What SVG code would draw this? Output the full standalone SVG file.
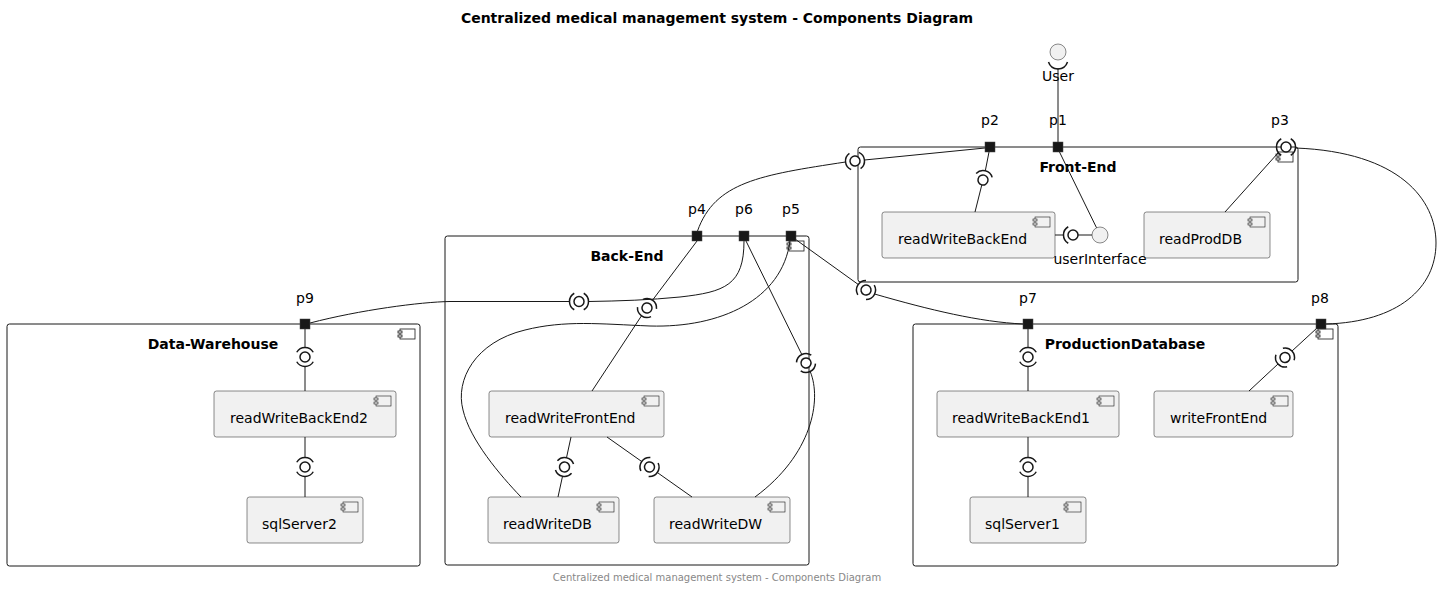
<svg xmlns="http://www.w3.org/2000/svg" width="1447" height="589" viewBox="0 0 1447 589">
<style>
text{font-family:"DejaVu Sans","Liberation Sans",sans-serif;fill:#000}
.t{font-size:14px;font-weight:bold;text-anchor:middle}
.ft{font-size:10px;fill:#888;text-anchor:middle}
.cl{font-size:14px;font-weight:bold;text-anchor:middle}
.n{font-size:14px}
.pl{font-size:14px;text-anchor:middle}
.ct{fill:#fff;stroke:#181818;stroke-width:1}
.cp{fill:#f1f1f1;stroke:#181818;stroke-width:0.5}
.ic{fill:#f1f1f1;stroke:#181818;stroke-width:0.6}
.icw{fill:#fff;stroke:#181818;stroke-width:0.8}
.ln{fill:none;stroke:#181818;stroke-width:1}
.pt{fill:#181818;stroke:#444;stroke-width:0.5}
.lc{fill:#fff;stroke:#181818;stroke-width:1.5}
.la{fill:none;stroke:#181818;stroke-width:1.5}
.if{fill:#f1f1f1;stroke:#181818;stroke-width:0.5}
</style>
<defs>
<g id="ico"><rect class="ic" x="2" y="0" width="15" height="10"/><rect class="ic" x="0" y="2" width="4" height="2"/><rect class="ic" x="0" y="6" width="4" height="2"/></g>
<g id="icoc"><rect class="icw" x="2" y="0" width="15" height="10"/><rect class="icw" x="0" y="2" width="4" height="2"/><rect class="icw" x="0" y="6" width="4" height="2"/></g>
<g id="lol2"><path class="la" d="M-4.75,-8.23 A9.5,9.5 0 0 0 -4.75,8.23 M4.75,-8.23 A9.5,9.5 0 0 1 4.75,8.23"/><circle class="lc" r="5"/></g>
<g id="lol1"><path class="la" d="M-4.75,-8.23 A9.5,9.5 0 0 0 -4.75,8.23"/><circle class="lc" r="5"/></g>
</defs>
<rect width="1447" height="589" fill="#fff"/>
<text class="t" x="717" y="23">Centralized medical management system - Components Diagram</text>

<g id="Front-End">
<rect class="ct" x="858" y="147" width="440" height="135" rx="2.5"/>
<use href="#icoc" transform="translate(1276,152)"/>
<text class="cl" x="1078" y="172">Front-End</text>
</g>
<g id="Back-End">
<rect class="ct" x="445" y="236" width="364" height="329" rx="2.5"/>
<use href="#icoc" transform="translate(787,241)"/>
<text class="cl" x="627" y="261">Back-End</text>
</g>
<g id="Data-Warehouse">
<rect class="ct" x="7" y="324" width="413" height="242" rx="2.5"/>
<use href="#icoc" transform="translate(398,329)"/>
<text class="cl" x="213" y="349">Data-Warehouse</text>
</g>
<g id="ProductionDatabase">
<rect class="ct" x="913" y="324" width="425" height="242" rx="2.5"/>
<use href="#icoc" transform="translate(1316,329)"/>
<text class="cl" x="1125" y="349">ProductionDatabase</text>
</g>

<g id="readWriteBackEnd"><rect class="cp" x="882" y="212" width="173" height="46" rx="2.5"/><use href="#ico" transform="translate(1033,217)"/><text class="n" x="898" y="244">readWriteBackEnd</text></g>
<g id="readProdDB"><rect class="cp" x="1144" y="212" width="126" height="46" rx="2.5"/><use href="#ico" transform="translate(1248,217)"/><text class="n" x="1159" y="244">readProdDB</text></g>
<g id="readWriteFrontEnd"><rect class="cp" x="489" y="391" width="175" height="46" rx="2.5"/><use href="#ico" transform="translate(642,396)"/><text class="n" x="505" y="423">readWriteFrontEnd</text></g>
<g id="readWriteDB"><rect class="cp" x="488" y="497" width="131" height="46" rx="2.5"/><use href="#ico" transform="translate(597,502)"/><text class="n" x="503" y="529">readWriteDB</text></g>
<g id="readWriteDW"><rect class="cp" x="654" y="497" width="136" height="46" rx="2.5"/><use href="#ico" transform="translate(768,502)"/><text class="n" x="669" y="529">readWriteDW</text></g>
<g id="readWriteBackEnd2"><rect class="cp" x="214" y="391" width="182" height="46" rx="2.5"/><use href="#ico" transform="translate(374,396)"/><text class="n" x="230" y="423">readWriteBackEnd2</text></g>
<g id="sqlServer2"><rect class="cp" x="247" y="497" width="116" height="46" rx="2.5"/><use href="#ico" transform="translate(341,502)"/><text class="n" x="262" y="529">sqlServer2</text></g>
<g id="readWriteBackEnd1"><rect class="cp" x="937" y="391" width="182" height="46" rx="2.5"/><use href="#ico" transform="translate(1097,396)"/><text class="n" x="952" y="423">readWriteBackEnd1</text></g>
<g id="writeFrontEnd"><rect class="cp" x="1154" y="391" width="139" height="46" rx="2.5"/><use href="#ico" transform="translate(1271,396)"/><text class="n" x="1170" y="423">writeFrontEnd</text></g>
<g id="sqlServer1"><rect class="cp" x="970" y="497" width="116" height="46" rx="2.5"/><use href="#ico" transform="translate(1064,502)"/><text class="n" x="985" y="529">sqlServer1</text></g>

<g id="User"><circle class="if" cx="1058" cy="52" r="8"/><text class="pl" x="1058" y="81">User</text></g>
<g id="userInterface"><circle class="if" cx="1100" cy="235" r="8"/><text class="pl" x="1100" y="264">userInterface</text></g>

<g id="connectors">
<path class="la" d="M1048.5,62 A10,10 0 0 0 1067.5,62"/>
<path class="ln" d="M1058,68 V142"/>
<path class="ln" d="M1059.5,152 L1096.5,227.7"/>
<path class="ln" d="M1055,235 H1063.5 M1078,235 H1092"/>
<use href="#lol1" transform="translate(1073,235)"/>
<path class="ln" d="M989,152 L985.3,170.8 M981.8,184.9 L975,212"/>
<use href="#lol1" transform="translate(983,180) rotate(103.8)"/>
<path class="ln" d="M985,148 L864.4,160 M845.6,162 C760,175 715,182 697.5,231"/>
<use href="#lol2" transform="translate(855,161) rotate(-6)"/>
<path class="ln" d="M1278,153 L1225,212 M1295.5,148 C1400,152 1436,200 1436,243 C1436,288 1398,322 1326,324"/>
<use href="#lol2" transform="translate(1286,147)"/>
<path class="ln" d="M795,239 L858.3,284.5 M874.5,294 C930,310 980,322 1023,324"/>
<use href="#lol2" transform="translate(866,290) rotate(30)"/>
<path class="ln" d="M746,241 L801.8,354.5 M810.2,371.5 C822,400 812,455 755,497"/>
<use href="#lol2" transform="translate(806,363) rotate(63.8)"/>
<path class="ln" d="M744,241 C744,285 725,292 680,297 C650,300 620,301 588.5,301.5 M569.5,301.5 L450,301.5 C420,302 360,310 310,323"/>
<use href="#lol2" transform="translate(579,301.5)"/>
<path class="ln" d="M697,241 L652.5,300.2 M641.5,315.8 L592,391"/>
<use href="#lol2" transform="translate(647,308) rotate(125)"/>
<path class="ln" d="M790,241 C782,300 720,328 650,326 C600,324 565,320 525,330 C475,342 455,380 463,410 C470,440 500,475 521,497"/>
<path class="ln" d="M571,437 L566.5,457.7 M562.5,476.3 L558,497"/>
<use href="#lol2" transform="translate(564.5,467) rotate(102)"/>
<path class="ln" d="M607,437 L641.7,461.5 M657.3,472.5 L692,497"/>
<use href="#lol2" transform="translate(649.5,467) rotate(35.2)"/>
<path class="ln" d="M305,329 V347.5 M305,366.5 V391 M305,437 V457.5 M305,476.5 V497"/>
<use href="#lol2" transform="translate(305,357) rotate(90)"/>
<use href="#lol2" transform="translate(305,467) rotate(90)"/>
<path class="ln" d="M1028,329 V347.5 M1028,366.5 V391 M1028,437 V457.5 M1028,476.5 V497"/>
<use href="#lol2" transform="translate(1028,357) rotate(90)"/>
<use href="#lol2" transform="translate(1028,467) rotate(90)"/>
<path class="ln" d="M1317,328 L1292,351 M1278,364 L1249,391"/>
<use href="#lol2" transform="translate(1285,357.5) rotate(137.2)"/>
</g>

<g id="p1"><rect class="pt" x="1053" y="142" width="10" height="10"/><text class="pl" x="1058" y="125">p1</text></g>
<g id="p2"><rect class="pt" x="985" y="142" width="10" height="10"/><text class="pl" x="990" y="125">p2</text></g>
<g id="p3"><text class="pl" x="1280" y="125">p3</text></g>
<g id="p4"><rect class="pt" x="692" y="231" width="10" height="10"/><text class="pl" x="697" y="214">p4</text></g>
<g id="p6"><rect class="pt" x="739" y="231" width="10" height="10"/><text class="pl" x="744" y="214">p6</text></g>
<g id="p5"><rect class="pt" x="786" y="231" width="10" height="10"/><text class="pl" x="791" y="214">p5</text></g>
<g id="p7"><rect class="pt" x="1023" y="319" width="10" height="10"/><text class="pl" x="1028" y="303">p7</text></g>
<g id="p8"><rect class="pt" x="1316" y="319" width="10" height="10"/><text class="pl" x="1320" y="303">p8</text></g>
<g id="p9"><rect class="pt" x="300" y="319" width="10" height="10"/><text class="pl" x="305" y="303">p9</text></g>

<text class="ft" x="717" y="581">Centralized medical management system - Components Diagram</text>
</svg>
